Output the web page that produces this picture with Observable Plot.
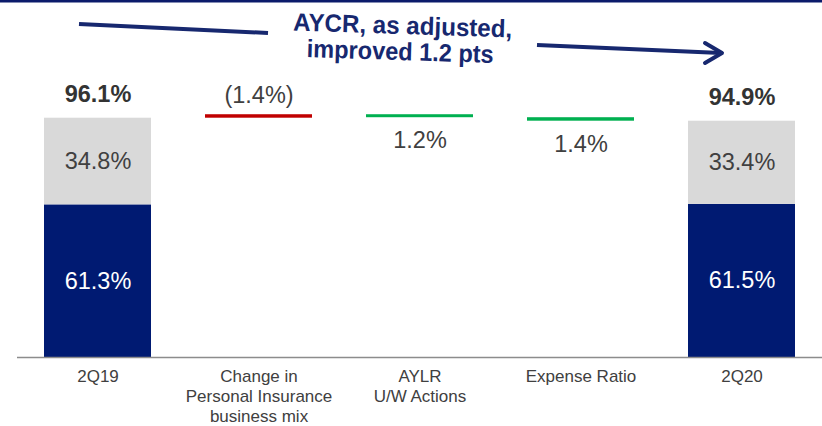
<!DOCTYPE html>
<html>
<head>
<meta charset="utf-8">
<script src="https://cdn.jsdelivr.net/npm/d3@7"></script>
<script src="https://cdn.jsdelivr.net/npm/@observablehq/plot@0.6"></script>
<style>
  html, body { margin: 0; padding: 0; background: #fff; }
  #wrap { position: relative; width: 822px; height: 426px; overflow: hidden; font-family: "Liberation Sans", Arial, sans-serif; }
  #overlay { position: absolute; left: 0; top: 0; pointer-events: none; }
</style>
</head>
<body>
<div id="wrap"></div>
<script>
// ---- data ----
const categories = ["2Q19", "Change in\nPersonal Insurance\nbusiness mix", "AYLR\nU/W Actions", "Expense Ratio", "2Q20"];
const lossRatio = [61.3, 61.5];
const expenseRatio = [34.8, 33.4];
const combinedRatio = [96.1, 94.9];
const changeValues = [1.4, -1.2, -1.4];
const changeLabels = ["(1.4%)", "1.2%", "1.4%"];
const changeColors = ["#C00000", "#00B050", "#00B050"];
const annotationLines = ["AYCR, as adjusted,", "improved 1.2 pts"];

const NAVY = "#001A72";
const GRAY = "#D9D9D9";
const TEXT = "#404040";

// ---- derived tables ----
const totalCats = [categories[0], categories[4]];
const changeCategories = categories.slice(1, 4);
const segs = [];
totalCats.forEach((c, i) => {
  segs.push({cat: c, y1: 0, y2: lossRatio[i], fill: NAVY, label: lossRatio[i].toFixed(1) + "%", color: "#fff"});
  segs.push({cat: c, y1: lossRatio[i], y2: lossRatio[i] + expenseRatio[i], fill: GRAY, label: expenseRatio[i].toFixed(1) + "%", color: TEXT});
});
const totals = totalCats.map((c, i) => ({cat: c, y: combinedRatio[i], label: combinedRatio[i].toFixed(1) + "%"}));
let level = combinedRatio[0];
const steps = changeCategories.map((c, i) => {
  const start = level;
  level = +(level + changeValues[i]).toFixed(2);
  return {cat: c, y1: start, y2: level, fill: changeColors[i], label: changeLabels[i],
          top: Math.max(start, level), bottom: Math.min(start, level), up: changeValues[i] > 0};
});

const chart = Plot.plot({
  width: 822,
  height: 426,
  marginLeft: 17,
  marginRight: 0,
  marginTop: 0,
  marginBottom: 69,
  style: {fontFamily: "'Liberation Sans', Arial, sans-serif", background: "transparent"},
  x: {domain: categories, paddingInner: 0.335, paddingOuter: 0.1675, label: null},
  y: {domain: [0, 357 / 2.49], axis: null},
  marks: [
    Plot.axisX({tickSize: 0, tickPadding: 10, fontSize: 17, lineHeight: 1.19, fill: TEXT, label: null, textAnchor: "middle"}),
    Plot.barY(segs, {x: "cat", y1: "y1", y2: "y2", fill: "fill", inset: 0}),
    Plot.barY(steps, {x: "cat", y1: "y1", y2: "y2", fill: "fill", inset: 0}),
    Plot.text(segs, {x: "cat", y: d => (d.y1 + d.y2) / 2, text: "label", fill: "color", fontSize: 23.5}),
    Plot.text(totals, {x: "cat", y: "y", text: "label", dy: -24, fontSize: 23.5, fontWeight: "bold", fill: "#333"}),
    Plot.text(steps.filter(d => d.up), {x: "cat", y: "top", text: "label", dy: -19.5, fontSize: 23.5, fill: TEXT}),
    Plot.text(steps.filter(d => !d.up), {x: "cat", y: "bottom", text: "label", dy: 23, fontSize: 23.5, fill: TEXT}),
    Plot.ruleY([0], {stroke: "#8c8c8c", strokeWidth: 1.5})
  ]
});
document.getElementById("wrap").appendChild(chart);

// ---- header annotation overlay ----
const svg = d3.select("#wrap").append("svg").attr("id", "overlay").attr("width", 822).attr("height", 426);
svg.append("rect").attr("x", 0).attr("y", 0).attr("width", 822).attr("height", 2.5).attr("fill", "#0B1B6B");
const ann = "#17286F";
svg.append("line").attr("x1", 79).attr("y1", 24).attr("x2", 268).attr("y2", 33)
  .attr("stroke", ann).attr("stroke-width", 4);
svg.append("line").attr("x1", 537).attr("y1", 45).attr("x2", 721).attr("y2", 53)
  .attr("stroke", ann).attr("stroke-width", 4);
svg.append("polyline").attr("points", "705,43 722,53 705,63")
  .attr("fill", "none").attr("stroke", ann).attr("stroke-width", 4).attr("stroke-linecap", "round").attr("stroke-linejoin", "round");
const lens = [219, 187];
const cx = [402.5, 400];
const base = [34, 60];
annotationLines.forEach((t, i) => {
  svg.append("text")
    .attr("transform", `translate(${cx[i]},${base[i]}) rotate(1.8)`)
    .attr("text-anchor", "middle")
    .attr("font-family", "'Liberation Sans', Arial, sans-serif")
    .attr("font-weight", "bold").attr("font-size", 25)
    .attr("textLength", lens[i]).attr("lengthAdjust", "spacingAndGlyphs")
    .attr("fill", ann).text(t);
});
</script>
</body>
</html>
